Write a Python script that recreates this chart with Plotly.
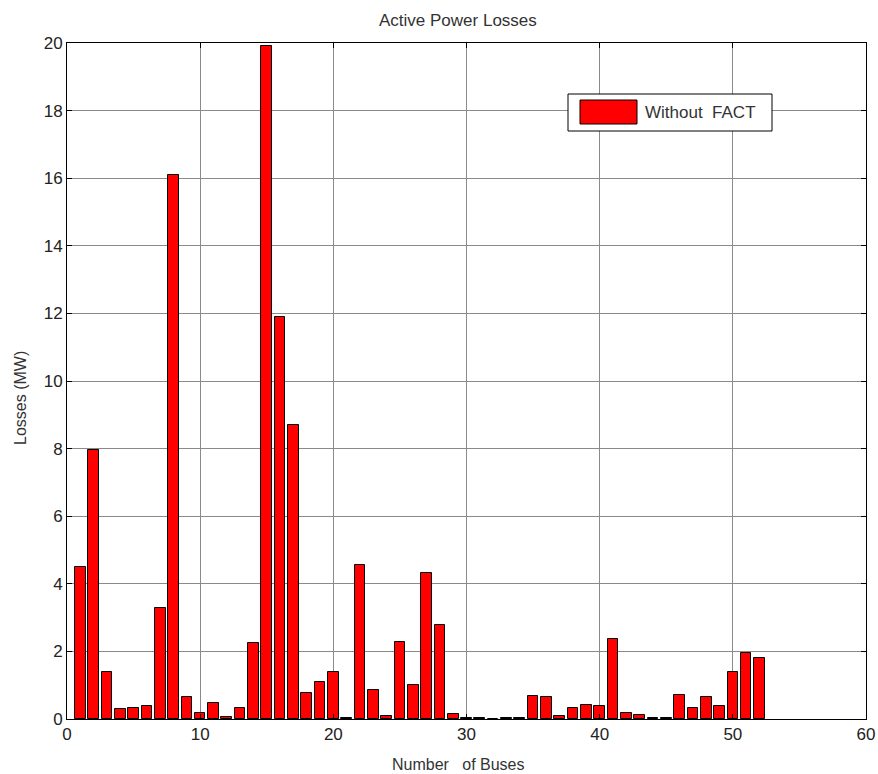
import plotly.graph_objects as go

buses = list(range(1, 53))
losses = [4.49, 7.95, 1.40, 0.30, 0.34, 0.38, 3.29, 16.1, 0.64, 0.17,
          0.46, 0.05, 0.34, 2.25, 19.9, 11.9, 8.7, 0.77, 1.09, 1.40,
          0.04, 4.56, 0.85, 0.09, 2.29, 1.01, 4.31, 2.79, 0.16, 0.04,
          0.03, 0.0, 0.04, 0.04, 0.68, 0.64, 0.09, 0.34, 0.42, 0.38,
          2.37, 0.17, 0.13, 0.04, 0.04, 0.72, 0.34, 0.64, 0.38, 1.40,
          1.95, 1.81]
x_ticks = [0, 10, 20, 30, 40, 50, 60]
y_ticks = [0, 2, 4, 6, 8, 10, 12, 14, 16, 18, 20]
series_name = "Without  FACT"

FONT = "Arial, Liberation Sans"
fig = go.Figure()
fig.add_trace(go.Bar(
    x=buses, y=losses, name=series_name, width=0.8,
    marker=dict(color="#ff0000", line=dict(color="black", width=1)),
    showlegend=False,
))

axis_common = dict(
    showline=True, linecolor="black", linewidth=1, mirror="ticks",
    ticks="inside", ticklen=5, tickcolor="black",
    showgrid=True, gridcolor="#8a8a8a", gridwidth=1,
    zeroline=False, automargin=False,
    tickfont=dict(family=FONT, size=17, color="#222"),
)

W, H = 878, 774
PX0, PX1, PY0, PY1 = 67, 866, 43, 719  # plot area in pixels
L, R, T, B = PX0, W - PX1, PY0, H - PY1


def px(sx):
    return (sx - PX0) / (PX1 - PX0)


def py(sy):
    return (PY1 - sy) / (PY1 - PY0)


fig.update_layout(
    width=W, height=H,
    margin=dict(l=L, r=R, t=T, b=B),
    paper_bgcolor="white", plot_bgcolor="white",
    xaxis=dict(range=[0, 60], tickvals=x_ticks, **axis_common),
    yaxis=dict(range=[0, 20], tickvals=y_ticks, **axis_common),
    bargap=0,
    showlegend=False,
)

# title
fig.add_annotation(text="Active Power Losses", xref="paper", yref="paper",
                   x=px(458), y=py(21), showarrow=False,
                   xanchor="center", yanchor="middle",
                   font=dict(family=FONT, size=17, color="#333"))
# x-axis title
fig.add_annotation(text="Number   of Buses", xref="paper", yref="paper",
                   x=px(458), y=py(764), showarrow=False,
                   xanchor="center", yanchor="middle",
                   font=dict(family=FONT, size=16, color="#333"))
# y-axis title
fig.add_annotation(text="Losses (MW)", xref="paper", yref="paper",
                   x=px(20), y=py(398), textangle=-90, showarrow=False,
                   xanchor="center", yanchor="middle",
                   font=dict(family=FONT, size=16, color="#333"))

# legend box (drawn manually to reproduce the wide swatch)
fig.add_shape(type="rect", xref="paper", yref="paper",
              x0=px(568), x1=px(772), y0=py(131), y1=py(94),
              line=dict(color="black", width=1), fillcolor="white", layer="above")
fig.add_shape(type="rect", xref="paper", yref="paper",
              x0=px(580), x1=px(637), y0=py(124), y1=py(100),
              line=dict(color="black", width=1), fillcolor="#ff0000", layer="above")
fig.add_annotation(text=series_name, xref="paper", yref="paper",
                   x=px(643), y=py(113), showarrow=False,
                   xanchor="left", yanchor="middle",
                   font=dict(family=FONT, size=17, color="#333"))

fig.write_html(
    "out.html",
    config={"displayModeBar": False},
    post_script="document.body.style.margin='0';document.body.style.overflow='hidden';",
)
